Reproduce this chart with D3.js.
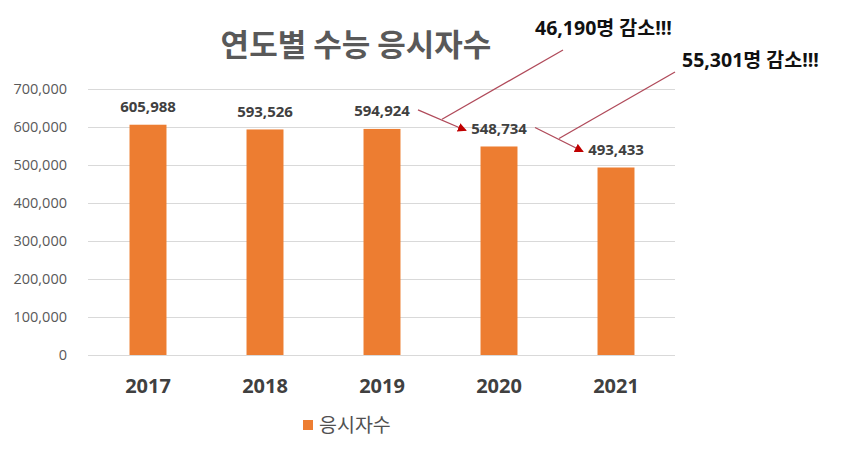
<!DOCTYPE html>
<html>
<head>
<meta charset="utf-8">
<script src="https://cdn.jsdelivr.net/npm/d3@7"></script>
<style>
  html, body { margin: 0; padding: 0; background: #fff; }
  svg { display: block; }
  text { font-family: "Open Sans", "Noto Sans CJK KR", sans-serif; }
</style>
</head>
<body>
<svg id="chart" width="850" height="458"></svg>
<script>
const title = "연도별 수능 응시자수";
const seriesName = "응시자수";
const years = ["2017", "2018", "2019", "2020", "2021"];
const applicants = [605988, 593526, 594924, 548734, 493433];
const yTicks = [0, 100000, 200000, 300000, 400000, 500000, 600000, 700000];
const annotationTexts = ["46,190명 감소!!!", "55,301명 감소!!!"];
const annotationFrom = [2, 3]; // arrow from year index -> next year

const svg = d3.select("#chart");
const fmt = d3.format(",");
const kFont = '"Noto Sans CJK KR", sans-serif';

const x = d3.scaleBand().domain(years).range([89.5, 674.5]).padding(0);
const y = d3.scaleLinear().domain([0, 700000]).range([355, 89]);
const barW = x.bandwidth() * 0.316;
const xc = d => x(d) + x.bandwidth() / 2;

// gridlines
svg.append("g").selectAll("line").data(yTicks).join("line")
  .attr("x1", 88).attr("x2", 675)
  .attr("y1", d => Math.round(y(d)) + 0.5).attr("y2", d => Math.round(y(d)) + 0.5)
  .attr("stroke", "#d9d9d9").attr("stroke-width", 1);

// y axis labels
svg.append("g").selectAll("text").data(yTicks).join("text")
  .attr("x", 67).attr("y", d => y(d))
  .attr("dy", "0.35em")
  .attr("text-anchor", "end")
  .attr("font-size", 14.5)
  .attr("fill", "#595959")
  .text(d => fmt(d));

// bars
svg.append("g").selectAll("rect").data(years).join("rect")
  .attr("x", d => xc(d) - barW / 2)
  .attr("width", barW)
  .attr("y", (d, i) => y(applicants[i]))
  .attr("height", (d, i) => y(0) - y(applicants[i]))
  .attr("fill", "#ed7d31");

// value labels
svg.append("g").selectAll("text").data(years).join("text")
  .attr("x", d => xc(d))
  .attr("y", (d, i) => y(applicants[i]) - 12.5)
  .attr("text-anchor", "middle")
  .attr("font-size", 15)
  .attr("font-weight", "bold")
  .attr("fill", "#404040")
  .text((d, i) => fmt(applicants[i]));

// x labels
svg.append("g").selectAll("text").data(years).join("text")
  .attr("x", d => xc(d))
  .attr("y", 393)
  .attr("text-anchor", "middle")
  .attr("font-size", 20)
  .attr("font-weight", "bold")
  .attr("fill", "#404040")
  .text(d => d);

// title
svg.append("text")
  .attr("x", 356).attr("y", 56)
  .attr("text-anchor", "middle")
  .attr("font-size", 31)
  .attr("font-weight", "bold")
  .attr("fill", "#595959")
  .style("font-family", kFont)
  .text(title);

// legend
svg.append("rect").attr("x", 303).attr("y", 420).attr("width", 10).attr("height", 10).attr("fill", "#ed7d31");
svg.append("text")
  .attr("x", 319).attr("y", 432)
  .attr("font-size", 19.5)
  .attr("fill", "#505050")
  .style("font-family", kFont)
  .text(seriesName);

// arrows + annotations
const defs = svg.append("defs");
defs.append("marker")
  .attr("id", "ah").attr("viewBox", "0 0 10 10")
  .attr("refX", 9).attr("refY", 5)
  .attr("markerWidth", 9).attr("markerHeight", 9)
  .attr("markerUnits", "userSpaceOnUse")
  .attr("orient", "auto")
  .append("path").attr("d", "M0,0 L10,5 L0,10 Z").attr("fill", "#c00000");

const annPos = [
  { tx: 535, ty: 35, lx: 563, ly: 50 },
  { tx: 682, ty: 67, lx: 675, ly: 72 }
];
const lineColor = "#b04a5a";

annotationFrom.forEach((i, k) => {
  const x1 = xc(years[i]) + 36, y1 = y(applicants[i]) - 19;
  const x2 = xc(years[i + 1]) - 33, y2 = y(applicants[i + 1]) - 16;
  svg.append("line")
    .attr("x1", x1).attr("y1", y1).attr("x2", x2).attr("y2", y2)
    .attr("stroke", lineColor).attr("stroke-width", 1.3)
    .attr("marker-end", "url(#ah)");
  const mx = (x1 + x2) / 2, my = (y1 + y2) / 2 - 1;
  svg.append("line")
    .attr("x1", mx).attr("y1", my).attr("x2", annPos[k].lx).attr("y2", annPos[k].ly)
    .attr("stroke", lineColor).attr("stroke-width", 1.3);
  svg.append("text")
    .attr("x", annPos[k].tx).attr("y", annPos[k].ty)
    .attr("font-size", 19.5)
    .attr("font-weight", "bold")
    .attr("fill", "#111")
    .text(annotationTexts[k]);
});
</script>
</body>
</html>
